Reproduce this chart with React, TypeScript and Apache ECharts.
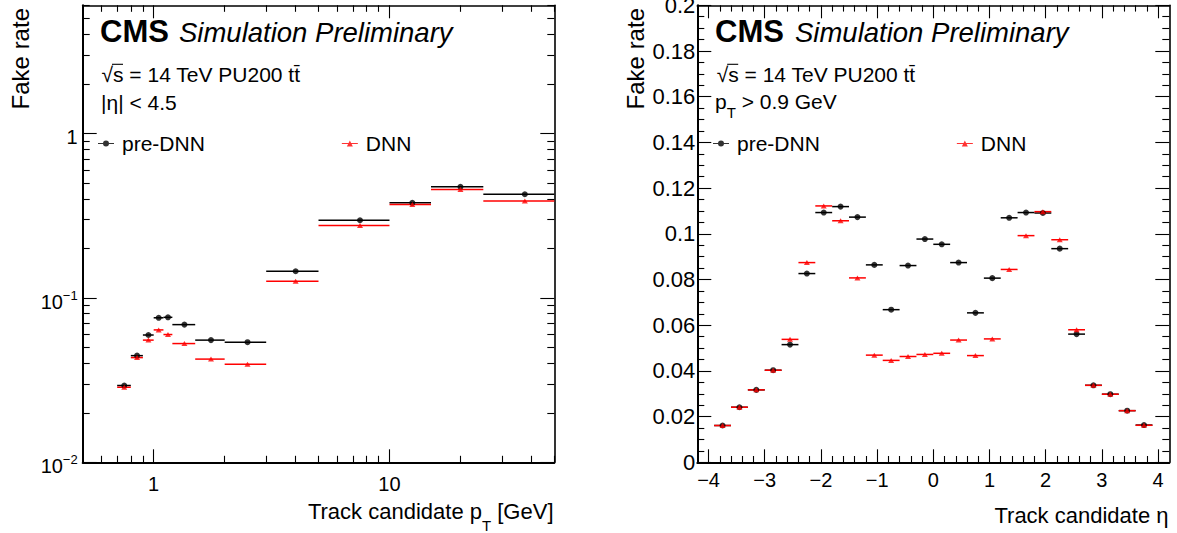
import React, { useEffect, useRef } from 'react';
import * as echarts from 'echarts';

const FONT = "'Liberation Sans', Arial, Helvetica, sans-serif";

// ---------------- Left panel: fake rate vs pT ----------------
const ptLow = [0.7, 0.8, 0.9, 1.0, 1.1, 1.2, 1.5, 2, 3, 5, 10, 15, 25];
const ptHigh = [0.8, 0.9, 1.0, 1.1, 1.2, 1.5, 2, 3, 5, 10, 15, 25, 50];
const fakePtPreDNN = [0.0293, 0.0445, 0.0594, 0.0756, 0.0761, 0.0687, 0.0553, 0.0537, 0.145, 0.296, 0.378, 0.473, 0.426];
const fakePtDNN = [0.0286, 0.0433, 0.0553, 0.0638, 0.0598, 0.0527, 0.0424, 0.0394, 0.126, 0.275, 0.369, 0.455, 0.388];

// ---------------- Right panel: fake rate vs eta ----------------
const etaLow = [-3.9, -3.6, -3.3, -3.0, -2.7, -2.4, -2.1, -1.8, -1.5, -1.2, -0.9, -0.6, -0.3, 0.0, 0.3, 0.6, 0.9, 1.2, 1.5, 1.8, 2.1, 2.4, 2.7, 3.0, 3.3, 3.6];
const etaHigh = [-3.6, -3.3, -3.0, -2.7, -2.4, -2.1, -1.8, -1.5, -1.2, -0.9, -0.6, -0.3, 0.0, 0.3, 0.6, 0.9, 1.2, 1.5, 1.8, 2.1, 2.4, 2.7, 3.0, 3.3, 3.6, 3.9];
const fakeEtaPreDNN = [0.0161, 0.0241, 0.0317, 0.0403, 0.0515, 0.0826, 0.1093, 0.1119, 0.1073, 0.0864, 0.0668, 0.0861, 0.0977, 0.0954, 0.0874, 0.0654, 0.0806, 0.1070, 0.1093, 0.1091, 0.0935, 0.0561, 0.0337, 0.0298, 0.0226, 0.0163];
const fakeEtaDNN = [0.0161, 0.0241, 0.0317, 0.0403, 0.0538, 0.0874, 0.1122, 0.1057, 0.0807, 0.0469, 0.0446, 0.0463, 0.0472, 0.0477, 0.0535, 0.0467, 0.0540, 0.0844, 0.0992, 0.1097, 0.0974, 0.0580, 0.0337, 0.0298, 0.0226, 0.0162];

// ---------------- Tick values ----------------
const ptMajorTicks = [1, 10];
const ptMinorTicks = [0.6, 0.7, 0.8, 0.9, 2, 3, 4, 5, 6, 7, 8, 9, 20, 30, 40, 50];
const fakeLogMajorTicks = [0.01, 0.1, 1];
const fakeLogMinorTicks = [0.02, 0.03, 0.04, 0.05, 0.06, 0.07, 0.08, 0.09, 0.2, 0.3, 0.4, 0.5, 0.6, 0.7, 0.8, 0.9, 2, 3, 4, 5, 6];
const etaMajorTicks = [-4, -3, -2, -1, 0, 1, 2, 3, 4];
const fakeLinMajorTicks = [0, 0.02, 0.04, 0.06, 0.08, 0.1, 0.12, 0.14, 0.16, 0.18, 0.2];
const etaMinorTicks: number[] = [];
for (let k = -20; k <= 20; k++) if (k % 5 !== 0) etaMinorTicks.push(Math.round(k * 2) / 10);
const fakeLinMinorTicks: number[] = [];
for (let k = 1; k < 40; k++) if (k % 4 !== 0) fakeLinMinorTicks.push(Math.round(k * 5) / 1000);

const ICON_DOT = 'path://M0,2.4L16,2.4L16,3.6L0,3.6Z M11,3A3,3 0 1 1 5,3A3,3 0 1 1 11,3Z';
const ICON_TRI = 'path://M0,2.4L16,2.4L16,3.6L0,3.6Z M8,0L11,6L5,6Z';

const LEFT_GRID = { left: 82.7, top: 5.3, width: 471.6, height: 457 };
const RIGHT_GRID = { left: 697.3, top: 5.3, width: 472, height: 457 };

function axis(o: any) {
  const a: any = {
    type: o.type,
    gridIndex: o.grid,
    position: o.position,
    min: o.min,
    max: o.max,
    silent: true,
    axisLine: { show: o.line > 0, onZero: false, lineStyle: { color: '#000', width: o.line || 1 } },
    axisTick: { show: true, inside: true, length: o.len, customValues: o.ticks, lineStyle: { color: '#000', width: 1.1 } },
    minorTick: { show: false },
    splitLine: { show: false },
    splitArea: { show: false },
    axisLabel: o.label ? o.label : { show: false },
  };
  if (o.type === 'log') a.logBase = 10;
  return a;
}

const logYLabel = {
  show: true,
  customValues: fakeLogMajorTicks,
  margin: 5,
  padding: [8, 0, 0, 0],
  verticalAlign: 'middle',
  formatter: (v: number) => {
    const e = Math.round(Math.log10(v));
    return e === 0 ? '{b|1}' : '{b|10}{s|\u2212' + -e + '}';
  },
  rich: {
    b: { fontSize: 20, lineHeight: 26, verticalAlign: 'middle', fontFamily: FONT, color: '#000' },
    s: { fontSize: 13, lineHeight: 14, verticalAlign: 'top', fontFamily: FONT, color: '#000' },
  },
};

const xAxes = [
  axis({ type: 'log', grid: 0, position: 'bottom', min: 0.5, max: 50, line: 2, len: 13, ticks: ptMajorTicks,
    label: { show: true, customValues: ptMajorTicks, margin: 12, fontSize: 20, fontFamily: FONT, color: '#000',
      formatter: (v: number) => String(Math.round(v)) } }),
  axis({ type: 'log', grid: 0, position: 'top', min: 0.5, max: 50, line: 1.6, len: 13, ticks: ptMajorTicks }),
  axis({ type: 'log', grid: 1, position: 'bottom', min: 0.5, max: 50, line: 0, len: 6.5, ticks: ptMinorTicks }),
  axis({ type: 'log', grid: 1, position: 'top', min: 0.5, max: 50, line: 0, len: 6.5, ticks: ptMinorTicks }),
  axis({ type: 'value', grid: 2, position: 'bottom', min: -4.2, max: 4.2, line: 2, len: 13, ticks: etaMajorTicks,
    label: { show: true, customValues: etaMajorTicks, margin: 8, fontSize: 20, fontFamily: FONT, color: '#000',
      formatter: (v: number) => (v < 0 ? '\u2212' + Math.abs(v) : String(v)) } }),
  axis({ type: 'value', grid: 2, position: 'top', min: -4.2, max: 4.2, line: 1.6, len: 13, ticks: etaMajorTicks }),
  axis({ type: 'value', grid: 3, position: 'bottom', min: -4.2, max: 4.2, line: 0, len: 6.3, ticks: etaMinorTicks }),
  axis({ type: 'value', grid: 3, position: 'top', min: -4.2, max: 4.2, line: 0, len: 6.3, ticks: etaMinorTicks }),
];

const yAxes = [
  axis({ type: 'log', grid: 0, position: 'left', min: 0.01, max: 6, line: 2, len: 14, ticks: fakeLogMajorTicks, label: logYLabel }),
  axis({ type: 'log', grid: 0, position: 'right', min: 0.01, max: 6, line: 1.6, len: 14, ticks: fakeLogMajorTicks }),
  axis({ type: 'log', grid: 1, position: 'left', min: 0.01, max: 6, line: 0, len: 7, ticks: fakeLogMinorTicks }),
  axis({ type: 'log', grid: 1, position: 'right', min: 0.01, max: 6, line: 0, len: 7, ticks: fakeLogMinorTicks }),
  axis({ type: 'value', grid: 2, position: 'left', min: 0, max: 0.2, line: 2, len: 14, ticks: fakeLinMajorTicks,
    label: { show: true, customValues: fakeLinMajorTicks, margin: 2, padding: [6, 0, 0, 0], fontSize: 22, fontFamily: FONT, color: '#000',
      formatter: (v: number) => String(v) } }),
  axis({ type: 'value', grid: 2, position: 'right', min: 0, max: 0.2, line: 1.6, len: 14, ticks: fakeLinMajorTicks }),
  axis({ type: 'value', grid: 3, position: 'left', min: 0, max: 0.2, line: 0, len: 7, ticks: fakeLinMinorTicks }),
  axis({ type: 'value', grid: 3, position: 'right', min: 0, max: 0.2, line: 0, len: 7, ticks: fakeLinMinorTicks }),
];

function barRenderer(color: string) {
  return (params: any, api: any) => {
    const y = api.value(2);
    const p1 = api.coord([api.value(0), y]);
    const p2 = api.coord([api.value(1), y]);
    return {
      type: 'line',
      shape: { x1: p1[0], y1: p1[1], x2: p2[0], y2: p2[1] },
      style: { stroke: color, lineWidth: 1.5 },
    };
  };
}

function panelSeries(lo: number[], hi: number[], pre: number[], dnn: number[], xi: number, yi: number) {
  return [
    { type: 'custom', name: 'pre-DNN bins', xAxisIndex: xi, yAxisIndex: yi, encode: { x: [0, 1], y: 2 },
      data: lo.map((l, i) => [l, hi[i], pre[i]]), renderItem: barRenderer('#000'), silent: true },
    { type: 'scatter', name: 'pre-DNN', xAxisIndex: xi, yAxisIndex: yi, symbol: 'circle', symbolSize: 6,
      itemStyle: { color: '#000' }, data: lo.map((l, i) => [(l + hi[i]) / 2, pre[i]]), silent: true },
    { type: 'custom', name: 'DNN bins', xAxisIndex: xi, yAxisIndex: yi, encode: { x: [0, 1], y: 2 },
      data: lo.map((l, i) => [l, hi[i], dnn[i]]), renderItem: barRenderer('#ff0000'), silent: true },
    { type: 'scatter', name: 'DNN', xAxisIndex: xi, yAxisIndex: yi, symbol: 'triangle', symbolSize: [6, 5],
      itemStyle: { color: '#ff0000' }, data: lo.map((l, i) => [(l + hi[i]) / 2, dnn[i]]), silent: true },
  ];
}

function legendAt(left: number) {
  return {
    data: [{ name: 'pre-DNN', icon: ICON_DOT }, { name: 'DNN', icon: ICON_TRI }],
    left, top: 132.5, orient: 'horizontal', itemWidth: 16, itemHeight: 6, itemGap: 137, padding: 0,
    selectedMode: false,
    itemStyle: { borderWidth: 0 },
    textStyle: { fontSize: 21, fontFamily: FONT, color: '#000', lineHeight: 22, padding: [0, 0, 0, 3] },
  };
}

function txt(x: number, y: number, text: string, size: number, extra: any = {}) {
  return {
    type: 'text', x, y, silent: true,
    style: { text, fontSize: size, fontFamily: FONT, fill: '#000', align: 'left', verticalAlign: 'middle', ...extra },
  };
}

function panelTexts(x0: number, simX: number, sqrtX: number) {
  return [
    txt(x0, 31.3, 'CMS', 31, { fontWeight: 'bold' }),
    txt(simX, 32.5, 'Simulation Preliminary', 27.5, { fontStyle: 'italic' }),
    txt(sqrtX, 74.4, '\u221As = 14 TeV PU200 tt\u0304', 21),
    // overline of the square root
    { type: 'line', silent: true, shape: { x1: sqrtX + 10.5, y1: 64.3, x2: sqrtX + 21.5, y2: 64.3 },
      style: { stroke: '#000', lineWidth: 1.1 } },
  ];
}

const graphics: any[] = [
  // Left panel
  { type: 'text', x: 8, y: 8, rotation: Math.PI / 2, silent: true,
    style: { text: 'Fake rate', fontSize: 24, fontFamily: FONT, fill: '#000', align: 'right', verticalAlign: 'top' } },
  ...panelTexts(100, 179, 101.5),
  txt(101, 102, '|\u03B7| < 4.5', 21),
  { type: 'text', x: 553.5, y: 500.5, silent: true,
    style: {
      text: '{a|Track candidate p}{s|T}{a| [GeV]}', align: 'right', verticalAlign: 'top', fill: '#000',
      rich: {
        a: { fontSize: 22, lineHeight: 22, verticalAlign: 'top', fontFamily: FONT, fill: '#000' },
        s: { fontSize: 15, lineHeight: 32, verticalAlign: 'bottom', fontFamily: FONT, fill: '#000' },
      },
    } },
  // Right panel
  { type: 'text', x: 623, y: 8, rotation: Math.PI / 2, silent: true,
    style: { text: 'Fake rate', fontSize: 24, fontFamily: FONT, fill: '#000', align: 'right', verticalAlign: 'top' } },
  ...panelTexts(715, 795, 716.7),
  { type: 'text', x: 715, y: 90.5, silent: true,
    style: {
      text: '{a|p}{s|T}{a| > 0.9 GeV}', align: 'left', verticalAlign: 'top', fill: '#000',
      rich: {
        a: { fontSize: 21, lineHeight: 21, verticalAlign: 'top', fontFamily: FONT, fill: '#000' },
        s: { fontSize: 15, lineHeight: 29, verticalAlign: 'bottom', fontFamily: FONT, fill: '#000' },
      },
    } },
  txt(1168.5, 515.7, 'Track candidate \u03B7', 22, { align: 'right' }),
];

export default function App() {
  const ref = useRef<HTMLDivElement>(null);
  useEffect(() => {
    if (!ref.current) return;
    const chart = echarts.init(ref.current, null, { renderer: 'svg' });
    chart.setOption({
      animation: false,
      backgroundColor: '#fff',
      textStyle: { fontFamily: FONT },
      grid: [
        { ...LEFT_GRID, outerBoundsMode: 'none', containLabel: false },
        { ...LEFT_GRID, outerBoundsMode: 'none', containLabel: false },
        { ...RIGHT_GRID, outerBoundsMode: 'none', containLabel: false },
        { ...RIGHT_GRID, outerBoundsMode: 'none', containLabel: false },
      ],
      xAxis: xAxes,
      yAxis: yAxes,
      legend: [legendAt(98), legendAt(713)],
      series: [
        ...panelSeries(ptLow, ptHigh, fakePtPreDNN, fakePtDNN, 0, 0),
        ...panelSeries(etaLow, etaHigh, fakeEtaPreDNN, fakeEtaDNN, 4, 4),
      ],
      graphic: graphics,
    });
    return () => chart.dispose();
  }, []);
  return (
    <div
      ref={ref}
      style={{ position: 'absolute', left: 0, top: 0, width: 1177, height: 533, background: '#fff' }}
    />
  );
}
